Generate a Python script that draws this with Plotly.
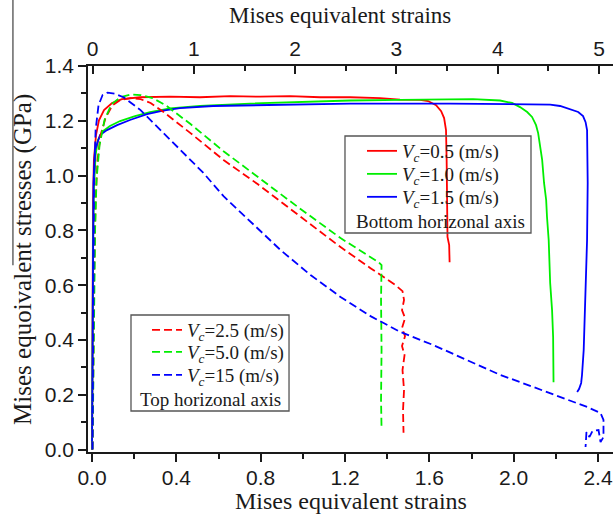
import plotly.graph_objects as go

# ---------------- data ----------------
# Bottom-axis series (solid lines)
red_solid_x = [0, 0.002, 0.005, 0.009, 0.019, 0.033, 0.057, 0.095, 0.142, 0.228, 0.370, 0.512, 0.655, 0.797,
               0.939, 1.082, 1.224, 1.366, 1.461, 1.556, 1.594, 1.632, 1.656, 1.670, 1.679, 1.682, 1.684, 1.686,
               1.694, 1.696]
red_solid_y = [0, 0.546, 0.911, 1.057, 1.148, 1.202, 1.239, 1.265, 1.279, 1.286, 1.288, 1.286, 1.290, 1.288,
               1.290, 1.286, 1.286, 1.283, 1.277, 1.276, 1.272, 1.257, 1.235, 1.210, 1.166, 1.057, 0.911, 0.776,
               0.746, 0.684]

green_solid_x = [0, 0.002, 0.005, 0.009, 0.017, 0.028, 0.052, 0.085, 0.133, 0.204, 0.275, 0.370, 0.512, 0.750,
                 0.987, 1.224, 1.461, 1.651, 1.807, 1.935, 1.992, 2.030, 2.064, 2.087, 2.106, 2.116, 2.130, 2.135,
                 2.144, 2.154, 2.158, 2.166, 2.173, 2.182, 2.187, 2.189]
green_solid_y = [0, 0.363, 0.728, 0.947, 1.075, 1.130, 1.162, 1.181, 1.199, 1.217, 1.232, 1.245, 1.254, 1.263,
                 1.268, 1.274, 1.276, 1.279, 1.279, 1.274, 1.265, 1.250, 1.232, 1.214, 1.184, 1.155, 1.093, 1.057,
                 0.973, 0.911, 0.849, 0.765, 0.608, 0.509, 0.411, 0.246]

blue_solid_x = [0, 0.002, 0.005, 0.007, 0.014, 0.038, 0.071, 0.119, 0.180, 0.261, 0.337, 0.417, 0.574, 0.892,
                1.224, 1.698, 2.078, 2.173, 2.220, 2.268, 2.306, 2.329, 2.341, 2.348, 2.351, 2.348, 2.343, 2.339,
                2.332, 2.324, 2.320, 2.310, 2.301]
blue_solid_y = [0, 0.363, 0.728, 0.973, 1.093, 1.148, 1.166, 1.184, 1.203, 1.224, 1.237, 1.246, 1.254, 1.259,
                1.263, 1.263, 1.261, 1.259, 1.254, 1.243, 1.232, 1.217, 1.195, 1.166, 0.973, 0.765, 0.608, 0.473,
                0.363, 0.272, 0.243, 0.221, 0.210]

# Top-axis series (dashed lines)
red_dash_x = [0, 0.005, 0.015, 0.030, 0.049, 0.079, 0.128, 0.197, 0.276, 0.375, 0.474, 0.573, 0.701, 0.967,
              1.293, 1.629, 2.053, 2.448, 2.744, 2.991, 3.060, 3.075, 3.055, 3.085, 3.055, 3.085, 3.055, 3.080,
              3.060, 3.075, 3.065, 3.070]
red_dash_y = [0, 0.254, 0.619, 0.911, 1.057, 1.148, 1.210, 1.257, 1.276, 1.283, 1.279, 1.265, 1.232, 1.155,
              1.057, 0.969, 0.849, 0.739, 0.662, 0.600, 0.578, 0.546, 0.509, 0.480, 0.443, 0.414, 0.378, 0.345,
              0.290, 0.217, 0.144, 0.061]

green_dash_x = [0, 0.010, 0.025, 0.039, 0.069, 0.118, 0.188, 0.276, 0.375, 0.474, 0.592, 0.721, 0.967, 1.293,
                1.629, 2.053, 2.448, 2.695, 2.823, 2.853, 2.848, 2.853, 2.848, 2.853]
green_dash_y = [0, 0.436, 0.801, 0.984, 1.111, 1.203, 1.261, 1.286, 1.296, 1.294, 1.283, 1.257, 1.188, 1.089,
                0.995, 0.878, 0.772, 0.714, 0.684, 0.673, 0.546, 0.363, 0.181, 0.075]

blue_dash_x = [0, 0.005, 0.010, 0.015, 0.030, 0.059, 0.099, 0.148, 0.217, 0.306, 0.474, 0.642, 0.869, 1.096,
               1.293, 1.560, 1.856, 2.152, 2.448, 2.744, 3.040, 3.366, 3.702, 4.028, 4.353, 4.689, 4.886, 5.015,
               5.044, 5.044, 5.015, 4.995, 4.936, 4.906, 4.876, 4.867]
blue_dash_y = [0, 0.254, 0.728, 0.984, 1.166, 1.257, 1.294, 1.303, 1.299, 1.286, 1.239, 1.177, 1.093, 1.009,
               0.925, 0.830, 0.728, 0.637, 0.557, 0.487, 0.429, 0.381, 0.327, 0.272, 0.228, 0.181, 0.155, 0.133,
               0.108, 0.046, 0.027, 0.071, 0.068, 0.046, 0.064, 0.009]

series_names_bottom = ["<i>V<sub>c</sub></i>=0.5 (m/s)", "<i>V<sub>c</sub></i>=1.0 (m/s)",
                       "<i>V<sub>c</sub></i>=1.5 (m/s)"]
series_names_top = ["<i>V<sub>c</sub></i>=2.5 (m/s)", "<i>V<sub>c</sub></i>=5.0 (m/s)",
                    "<i>V<sub>c</sub></i>=15 (m/s)"]

bottom_tickvals = [0.0, 0.4, 0.8, 1.2, 1.6, 2.0, 2.4]
top_tickvals = [0, 1, 2, 3, 4, 5]
y_tickvals = [0.0, 0.2, 0.4, 0.6, 0.8, 1.0, 1.2, 1.4]

x_title = "Mises equivalent strains"
y_title = "Mises equoivalent stresses (GPa)"
caption_bottom = "Bottom horizonal axis"
caption_top = "Top horizonal axis"

# ---------------- styling ----------------
RED, GREEN, BLUE = "#ff0000", "#00ee00", "#0000ff"
SERIF = "Liberation Serif"
SANS = "Liberation Sans"
DASH = "8px,4px"
LW = 1.8
INK = "#1a1a1a"

# one single-entry legend per series, so that rows can sit at the reference spacing
legend_pos_bottom = [(0.5219, 0.8290), (0.5219, 0.7694), (0.5219, 0.7099)]
legend_pos_top = [(0.1124, 0.3650), (0.1124, 0.3080), (0.1124, 0.2484)]

fig = go.Figure()
k = 1
for (xs, ys, c, nm) in [(red_solid_x, red_solid_y, RED, series_names_bottom[0]),
                        (green_solid_x, green_solid_y, GREEN, series_names_bottom[1]),
                        (blue_solid_x, blue_solid_y, BLUE, series_names_bottom[2])]:
    fig.add_trace(go.Scatter(x=xs, y=ys, mode="lines", name=nm, line=dict(color=c, width=LW),
                             xaxis="x", yaxis="y", legend="legend" if k == 1 else f"legend{k}"))
    k += 1
for (xs, ys, c, nm) in [(red_dash_x, red_dash_y, RED, series_names_top[0]),
                        (green_dash_x, green_dash_y, GREEN, series_names_top[1]),
                        (blue_dash_x, blue_dash_y, BLUE, series_names_top[2])]:
    fig.add_trace(go.Scatter(x=xs, y=ys, mode="lines", name=nm, line=dict(color=c, width=LW, dash=DASH),
                             xaxis="x2", yaxis="y", legend=f"legend{k}"))
    k += 1

axis_common = dict(showgrid=False, zeroline=False, showline=True, linecolor=INK, linewidth=1.5,
                   tickcolor=INK, tickwidth=1.5,
                   tickfont=dict(family=SANS, size=21, color=INK))

legend_style = dict(xanchor="left", yanchor="top", bgcolor="rgba(0,0,0,0)", borderwidth=0,
                    font=dict(family=SERIF, size=19, color=INK), tracegroupgap=0, itemwidth=30)
legends = {}
for i, (lx, ly) in enumerate(legend_pos_bottom + legend_pos_top, start=1):
    legends["legend" if i == 1 else f"legend{i}"] = dict(x=lx, y=ly, **legend_style)

fig.update_layout(
    width=613, height=516, autosize=False,
    margin=dict(l=88, r=0, t=66, b=64, pad=0),
    paper_bgcolor="white", plot_bgcolor="white",
    showlegend=True,
    xaxis=dict(**axis_common, range=[-0.019, 2.471], tickmode="array", tickvals=bottom_tickvals,
               ticktext=[f"{v:.1f}" for v in bottom_tickvals], ticks="outside", ticklen=8,
               ticklabelstandoff=-2,
               minor=dict(dtick=0.2, tick0=0, ticks="outside", ticklen=5, tickwidth=1.5, tickcolor=INK),
               anchor="y", domain=[0, 1]),
    xaxis2=dict(**axis_common, range=[-0.045, 5.138], tickmode="array", tickvals=top_tickvals,
                ticktext=[str(v) for v in top_tickvals], ticks="inside", ticklen=8, side="top",
                overlaying="x", anchor="y",
                minor=dict(dtick=0.5, tick0=0, ticks="inside", ticklen=5, tickwidth=1.5, tickcolor=INK)),
    yaxis=dict(**axis_common, range=[-0.009, 1.4], tickmode="array", tickvals=y_tickvals,
               ticktext=[f"{v:.1f}" for v in y_tickvals], ticks="outside", ticklen=8,
               minor=dict(dtick=0.1, tick0=0, ticks="outside", ticklen=5, tickwidth=1.5, tickcolor=INK),
               anchor="x"),
    yaxis2=dict(range=[-0.009, 1.4], overlaying="y", side="right", anchor="x", showgrid=False,
                zeroline=False, showline=False, tickmode="array", tickvals=y_tickvals, ticks="inside",
                ticklen=5, tickwidth=1.5, tickcolor=INK, showticklabels=False),
    **legends,
)

# legend frames
fig.add_shape(type="rect", xref="paper", yref="paper", x0=0.4895, x1=0.8438, y0=0.5674, y1=0.8187,
              line=dict(color="#555555", width=1.3), fillcolor="rgba(0,0,0,0)", layer="above")
fig.add_shape(type="rect", xref="paper", yref="paper", x0=0.0819, x1=0.3829, y0=0.1062, y1=0.3549,
              line=dict(color="#555555", width=1.3), fillcolor="rgba(0,0,0,0)", layer="above")
# stray crop line at left edge of the reference
fig.add_shape(type="line", xref="paper", yref="paper", x0=-0.143, x1=-0.143, y0=0.484, y1=1.171,
              line=dict(color="#666666", width=1.5))

ann_font = dict(family=SERIF, size=23, color=INK)
fig.add_annotation(text=x_title, xref="paper", yref="paper", x=0.501, y=-0.127, showarrow=False,
                   xanchor="center", yanchor="middle", font=dict(family=SERIF, size=24, color=INK))
fig.add_annotation(text=x_title, xref="paper", yref="paper", x=0.48, y=1.131, showarrow=False,
                   xanchor="center", yanchor="middle", font=ann_font)
fig.add_annotation(text=y_title, xref="paper", yref="paper", x=-0.124, y=0.50, showarrow=False,
                   xanchor="center", yanchor="middle", textangle=-90,
                   font=dict(family=SERIF, size=25, color=INK))
fig.add_annotation(text=caption_bottom, xref="paper", yref="paper", x=0.6705, y=0.596, showarrow=False,
                   xanchor="center", yanchor="middle", font=dict(family=SERIF, size=19, color=INK))
fig.add_annotation(text=caption_top, xref="paper", yref="paper", x=0.234, y=0.137, showarrow=False,
                   xanchor="center", yanchor="middle", font=dict(family=SERIF, size=19, color=INK))

fig.write_html("out.html", config={"displayModeBar": False},
               post_script="document.body.style.margin='0';document.body.style.overflow='hidden';")
